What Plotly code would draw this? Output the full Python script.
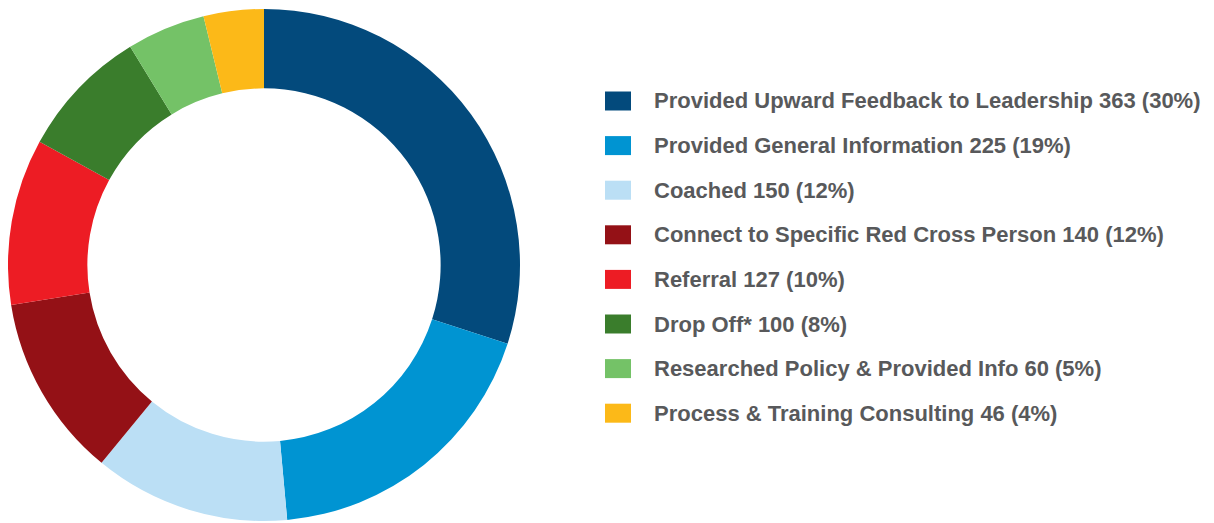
import plotly.graph_objects as go

# data
labels = [
    "Provided Upward Feedback to Leadership",
    "Provided General Information",
    "Coached",
    "Connect to Specific Red Cross Person",
    "Referral",
    "Drop Off*",
    "Researched Policy & Provided Info",
    "Process & Training Consulting",
]
values = [363, 225, 150, 140, 127, 100, 60, 46]
colors = ["#034a7c", "#0094d2", "#bbdff5", "#941116",
          "#ed1c24", "#3a7d2c", "#74c267", "#fcb918"]

W, H = 1214, 523
OFF = 8  # page body margin
total = sum(values)

def px_x(x):
    return max(0, (x - OFF) / W)

def px_y(y):
    return min(1, (H - (y - OFF)) / H)

cx, cy, r = 264, 265, 256

fig = go.Figure(go.Pie(
    labels=labels,
    values=values,
    marker=dict(colors=colors, line=dict(width=0)),
    hole=0.69,
    sort=False,
    direction="clockwise",
    rotation=0,
    textinfo="none",
    showlegend=False,
    domain=dict(x=[px_x(cx - r), px_x(cx + r)],
                y=[px_y(cy + r), px_y(cy - r)]),
))

# legend drawn by hand so the swatches can be larger
shapes = []
annotations = []
for i, (lab, val, col) in enumerate(zip(labels, values, colors)):
    yc = 101 + i * 44.6
    shapes.append(dict(type="rect", xref="paper", yref="paper",
                       x0=px_x(605), x1=px_x(631),
                       y0=px_y(yc + 9.5), y1=px_y(yc - 9.5),
                       fillcolor=col, line=dict(width=0)))
    pct = round(val / total * 100)
    annotations.append(dict(text=f"{lab} {val} ({pct}%)",
                            xref="paper", yref="paper",
                            x=px_x(652), y=px_y(yc),
                            xanchor="left", yanchor="middle",
                            showarrow=False,
                            font=dict(family="Liberation Sans", size=22,
                                      color="#58595b", weight="bold")))

fig.update_layout(
    width=W, height=H,
    margin=dict(l=0, r=0, t=0, b=0),
    paper_bgcolor="white",
    plot_bgcolor="white",
    shapes=shapes,
    annotations=annotations,
)

fig.write_html("out.html")
